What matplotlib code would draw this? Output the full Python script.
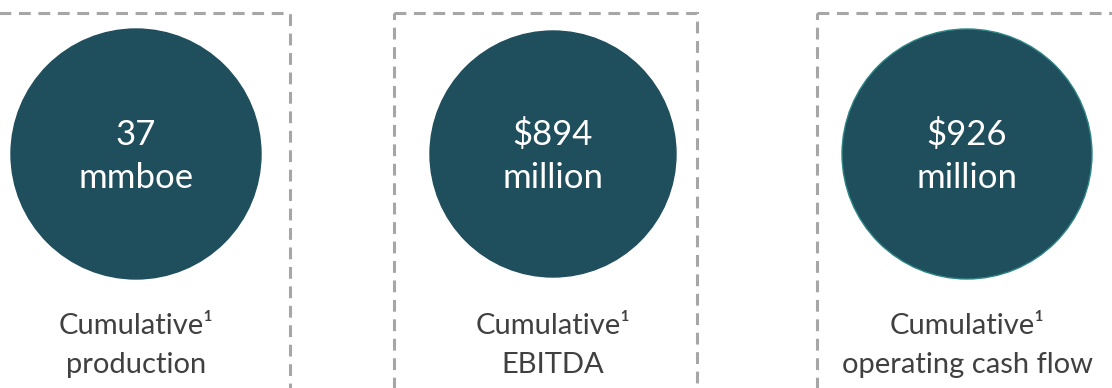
import matplotlib.pyplot as plt
from matplotlib.patches import Circle, Rectangle

plt.rcParams['font.family'] = ['Lato', 'DejaVu Sans']
plt.rcParams['lines.scale_dashes'] = False

# headline figures and their captions
values = ['37', '$894', '$926']
units = ['mmboe', 'million', 'million']
captions = ['production', 'EBITDA', 'operating cash flow']
caption_head = 'Cumulative\u00b9'

teal = '#1f4e5c'
grey_text = '#404040'
dash_grey = '#a6a6a6'

W, H = 1112, 388
fig = plt.figure(figsize=(W / 100, H / 100), dpi=100)
ax = fig.add_axes([0, 0, 1, 1])
ax.set_xlim(0, W)
ax.set_ylim(H, 0)
ax.axis('off')

# panel layout (pixels)
centers = [136, 553, 967]
radii = [125, 123, 125]
boxes = [(-13, 290), (394, 697), (817, 1125)]
edges = [teal, teal, '#2f8585']

for i in range(len(values)):
    x0, x1 = boxes[i]
    ax.add_patch(Rectangle((x0, 13), x1 - x0, 420, fill=False,
                           edgecolor=dash_grey, lw=2.2,
                           linestyle=(0, (8.5, 5.5)), clip_on=True))
    cx = centers[i]
    ax.add_patch(Circle((cx, 154), radii[i], facecolor=teal,
                        edgecolor=edges[i], lw=1.0))
    ax.text(cx, 145, values[i], color='white', fontsize=25,
            ha='center', va='baseline')
    ax.text(cx, 188, units[i], color='white', fontsize=25,
            ha='center', va='baseline')
    ax.text(cx, 334, caption_head, color=grey_text, fontsize=21,
            ha='center', va='baseline')
    ax.text(cx, 373, captions[i], color=grey_text, fontsize=21,
            ha='center', va='baseline')

fig.savefig('out.png', dpi=100)
